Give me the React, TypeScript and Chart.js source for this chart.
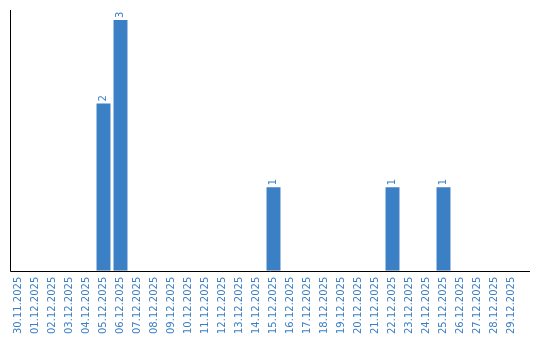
import React, { useEffect, useRef } from "react";
import { Chart, registerables } from "chart.js";

Chart.register(...registerables);

const categories = [
  "30.11.2025", "01.12.2025", "02.12.2025", "03.12.2025", "04.12.2025", "05.12.2025",
  "06.12.2025", "07.12.2025", "08.12.2025", "09.12.2025", "10.12.2025", "11.12.2025",
  "12.12.2025", "13.12.2025", "14.12.2025", "15.12.2025", "16.12.2025", "17.12.2025",
  "18.12.2025", "19.12.2025", "20.12.2025", "21.12.2025", "22.12.2025", "23.12.2025",
  "24.12.2025", "25.12.2025", "26.12.2025", "27.12.2025", "28.12.2025", "29.12.2025",
];
const counts = [0, 0, 0, 0, 0, 2, 3, 0, 0, 0, 0, 0, 0, 0, 0, 1, 0, 0, 0, 0, 0, 0, 1, 0, 0, 1, 0, 0, 0, 0];

const BLUE = "#3b7fc4";
const FONT = "'DejaVu Sans', Verdana, sans-serif";

const labelPlugin = {
  id: "barLabels",
  afterDatasetsDraw(chart: any) {
    const ctx = chart.ctx;
    const meta = chart.getDatasetMeta(0);
    ctx.save();
    ctx.fillStyle = BLUE;
    ctx.font = `10px ${FONT}`;
    ctx.textAlign = "left";
    ctx.textBaseline = "middle";
    meta.data.forEach((bar: any, i: number) => {
      const v = counts[i];
      if (!v) return;
      ctx.save();
      ctx.translate(bar.x, bar.y - 2);
      ctx.rotate(-Math.PI / 2);
      ctx.fillText(String(v), 0, 0);
      ctx.restore();
    });
    ctx.restore();
  },
  afterDraw(chart: any) {
    const { ctx, chartArea } = chart;
    const l = Math.round(chartArea.left) + 0.5;
    const b = Math.round(chartArea.bottom) + 0.5;
    ctx.save();
    ctx.strokeStyle = "#000";
    ctx.lineWidth = 1;
    ctx.beginPath();
    ctx.moveTo(l, b);
    ctx.lineTo(530, b);
    ctx.moveTo(l, chartArea.top);
    ctx.lineTo(l, b);
    ctx.stroke();
    ctx.restore();
  },
};

export default function App() {
  const ref = useRef<HTMLCanvasElement>(null);
  useEffect(() => {
    document.body.style.margin = "0";
    const chart = new Chart(ref.current!, {
      type: "bar",
      data: {
        labels: categories,
        datasets: [
          {
            data: counts,
            backgroundColor: BLUE,
            barPercentage: 0.82,
            categoryPercentage: 1,
          },
        ],
      },
      options: {
        animation: false,
        responsive: false,
        layout: { padding: { left: 10, top: 10, right: 20, bottom: 0 } },
        plugins: { legend: { display: false }, tooltip: { enabled: false } },
        scales: {
          x: {
            grid: { display: false, drawTicks: false },
            border: { display: false },
            ticks: {
              color: BLUE,
              font: { family: FONT, size: 10 },
              minRotation: 90,
              maxRotation: 90,
              autoSkip: false,
              padding: 6,
            },
          },
          y: {
            display: false,
            min: 0,
            max: 3.12,
          },
        },
      },
      plugins: [labelPlugin],
    });
    return () => chart.destroy();
  }, []);
  return <canvas ref={ref} width={540} height={340} style={{ display: "block" }} />;
}
